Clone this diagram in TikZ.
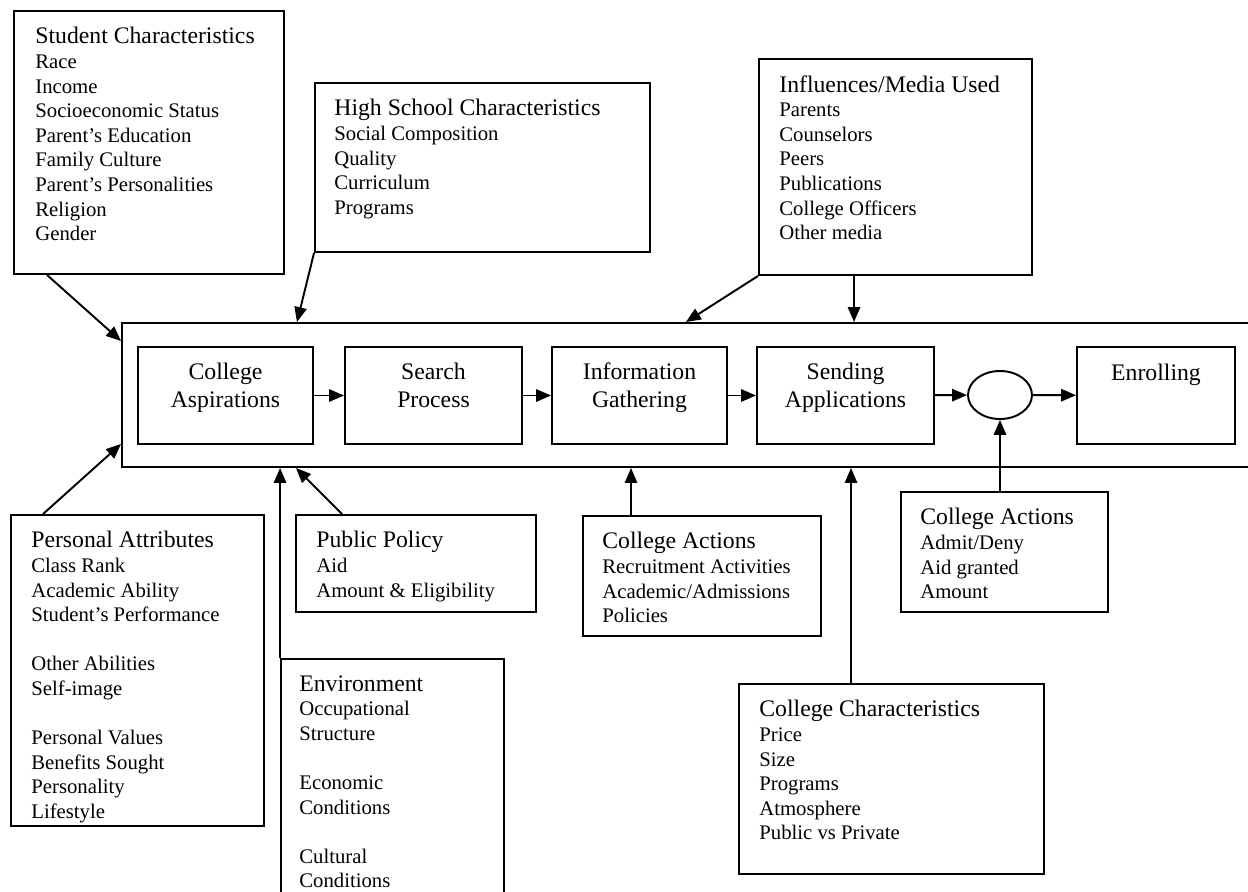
\documentclass[tikz,border=0pt]{standalone}
\usepackage{fontspec}
\setmainfont{Liberation Serif}
\usetikzlibrary{arrows.meta, fit, shapes.geometric}
\newcommand{\boxhead}[1]{{\fontsize{13.5}{13.9}\selectfont #1}}

\begin{document}
\begin{tikzpicture}[x=0.02cm, y=-0.02cm,
  box/.style={draw, line width=1.1pt, inner sep=0pt},
  boxtext/.style={anchor=north west, inner sep=0pt, align=left, font=\fontsize{11.8}{14}\selectfont},
  steptext/.style={anchor=north, inner sep=0pt, align=center, font=\fontsize{13.5}{15.9}\selectfont},
  arr/.style={line width=1.1pt, -{Triangle[length=8.5pt,width=7pt]}}]
\path[use as bounding box, clip] (0,0) rectangle (1248,892);

% frame round the process
\node[box, fit={(122,323) (1270,467)}] (frame) {};

% process steps
\node[box, fit={(138,347) (313,444)}] (asp) {};
\node[box, fit={(345,347) (522,444)}] (srch) {};
\node[box, fit={(552,347) (727,444)}] (info) {};
\node[box, fit={(757,347) (934,444)}] (send) {};
\node[box, ellipse, minimum width=1.28cm, minimum height=0.96cm] (dec) at (1000,395) {};
\node[box, fit={(1077,347) (1235,444)}] (enr) {};
\node[steptext] (asptxt) at ([yshift=-0.33cm]asp.north) {College\\Aspirations};
\node[steptext] (srchtxt) at ([yshift=-0.33cm]srch.north) {Search\\Process};
\node[steptext] (infotxt) at ([yshift=-0.33cm]info.north) {Information\\Gathering};
\node[steptext] (sendtxt) at ([yshift=-0.33cm]send.north) {Sending\\Applications};
\node[steptext] (enrtxt) at ([yshift=-0.36cm]enr.north) {Enrolling};

% factors above
\node[box, fit={(14,11) (284,274)}] (stud) {};
\node[boxtext] (studtxt) at ([xshift=0.44cm, yshift=-0.34cm]stud.north west)
  {\boxhead{Student Characteristics}\\ Race\\ Income\\ Socioeconomic Status\\ Parent's Education\\
   Family Culture\\ Parent's Personalities\\ Religion\\ Gender};
\node[box, fit={(315,83) (650,252)}] (hs) {};
\node[boxtext] (hstxt) at ([xshift=0.4cm, yshift=-0.34cm]hs.north west)
  {\boxhead{High School Characteristics}\\ Social Composition\\ Quality\\ Curriculum\\ Programs};
\node[box, fit={(759,59) (1032,275)}] (infl) {};
\node[boxtext] (infltxt) at ([xshift=0.42cm, yshift=-0.34cm]infl.north west)
  {\boxhead{Influences/Media Used}\\ Parents\\ Counselors\\ Peers\\ Publications\\ College Officers\\ Other media};

% factors below
\node[box, fit={(11,515) (264,826)}] (pers) {};
\node[boxtext] (perstxt) at ([xshift=0.42cm, yshift=-0.34cm]pers.north west)
  {\boxhead{Personal Attributes}\\ Class Rank\\ Academic Ability\\ Student's Performance\\[14pt]
   Other Abilities\\ Self-image\\[14pt] Personal Values\\ Benefits Sought\\ Personality\\ Lifestyle};
\node[box, fit={(296,515) (536,612)}] (pub) {};
\node[boxtext] (pubtxt) at ([xshift=0.42cm, yshift=-0.34cm]pub.north west)
  {\boxhead{Public Policy}\\ Aid\\ Amount \& Eligibility};
\node[box, fit={(281,659) (504,905)}] (env) {};
\node[boxtext] (envtxt) at ([xshift=0.38cm, yshift=-0.34cm]env.north west)
  {\boxhead{Environment}\\ Occupational\\ Structure\\[14pt] Economic\\ Conditions\\[14pt] Cultural\\ Conditions};
\node[box, fit={(583,516) (821,636)}] (actA) {};
\node[boxtext] (actAtxt) at ([xshift=0.4cm, yshift=-0.34cm]actA.north west)
  {\boxhead{College Actions}\\ Recruitment Activities\\ Academic/Admissions\\ Policies};
\node[box, fit={(901,492) (1108,612)}] (actB) {};
\node[boxtext] (actBtxt) at ([xshift=0.4cm, yshift=-0.34cm]actB.north west)
  {\boxhead{College Actions}\\ Admit/Deny\\ Aid granted\\ Amount};
\node[box, fit={(739,684) (1044,874)}] (cchar) {};
\node[boxtext] (cchartxt) at ([xshift=0.42cm, yshift=-0.34cm]cchar.north west)
  {\boxhead{College Characteristics}\\ Price\\ Size\\ Programs\\ Atmosphere\\ Public vs Private};

% steps in order
\draw[arr] (asp) -- (srch);
\draw[arr] (srch) -- (info);
\draw[arr] (info) -- (send);
\draw[arr] (send) -- (dec);
\draw[arr] (dec) -- (enr);

% influences on the frame
\draw[arr] ([xshift=0.68cm]stud.south west) -- ([yshift=-0.38cm]frame.north west);
\draw[arr] (hs.south west) -- ([xshift=3.52cm]frame.north west);
\draw[arr] (infl.south west) -- ([xshift=11.3cm]frame.north west);
\draw[arr] ([xshift=1.92cm]infl.south west) coordinate (inflfoot) -- (inflfoot |- frame.north);
\draw[arr] ([xshift=0.66cm]pers.north west) -- ([yshift=0.48cm]frame.south west);
\draw[arr] (env.north west) -- (env.north west |- frame.south);
\draw[arr] ([xshift=0.94cm]pub.north west) -- ([xshift=3.5cm]frame.south west);
\draw[arr] ([xshift=0.98cm]actA.north west) coordinate (actAfoot) -- (actAfoot |- frame.south);
\draw[arr] ([xshift=2.26cm]cchar.north west) coordinate (ccharfoot) -- (ccharfoot |- frame.south);
\draw[arr] (dec.south |- actB.north) -- (dec.south);
\end{tikzpicture}
\end{document}
